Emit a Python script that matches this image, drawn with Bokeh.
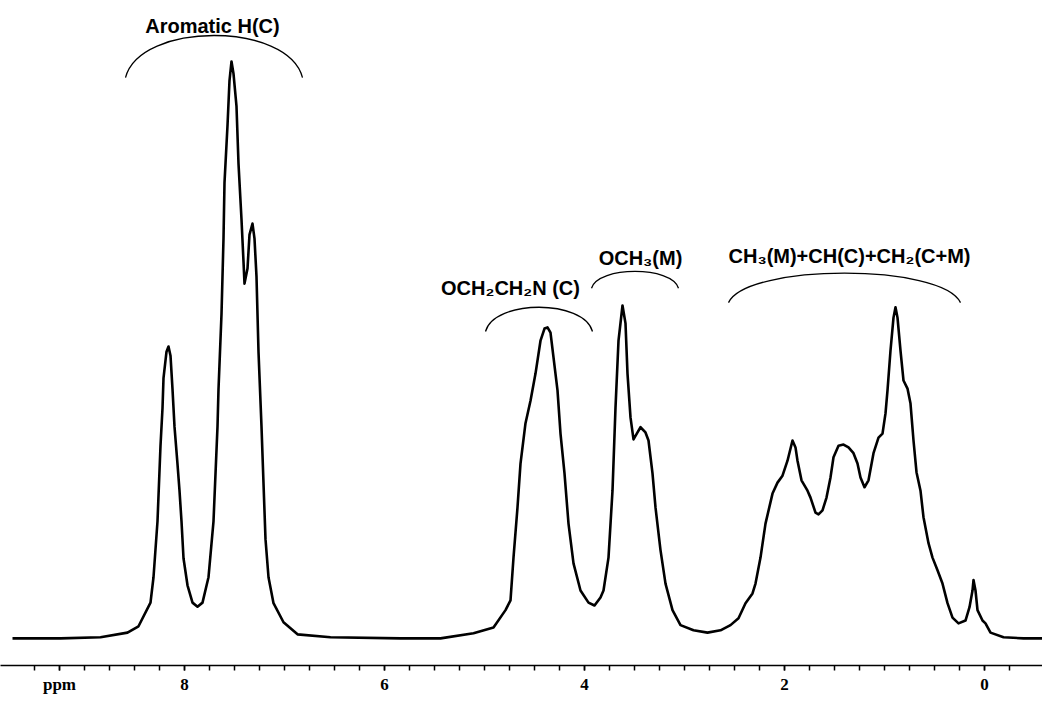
from bokeh.plotting import figure
from bokeh.models import Range1d, FixedTicker
from bokeh.core.properties import value
from bokeh.embed import file_html
from bokeh.resources import INLINE

# ---- spectrum trace (chemical shift in ppm, relative intensity) ----
ppm = [9.72, 9.24, 8.84, 8.57, 8.46, 8.34, 8.31, 8.27, 8.24, 8.22, 8.21, 8.18, 8.16, 8.14,
       8.12, 8.10, 8.07, 8.05, 8.03, 8.01, 7.97, 7.92, 7.87, 7.82, 7.76, 7.71, 7.67, 7.66,
       7.63, 7.61, 7.60, 7.57, 7.55, 7.53, 7.51, 7.48, 7.46, 7.43, 7.41, 7.40, 7.37, 7.35,
       7.32, 7.30, 7.28, 7.26, 7.23, 7.21, 7.19, 7.16, 7.11, 7.01, 6.87, 6.54, 5.84, 5.44,
       5.11, 4.91, 4.79, 4.74, 4.71, 4.67, 4.64, 4.59, 4.54, 4.49, 4.44, 4.40, 4.37, 4.34,
       4.31, 4.27, 4.24, 4.20, 4.16, 4.11, 4.04, 3.96, 3.90, 3.84, 3.81, 3.76, 3.72, 3.69,
       3.66, 3.62, 3.59, 3.57, 3.54, 3.51, 3.47, 3.44, 3.39, 3.36, 3.32, 3.29, 3.24, 3.19,
       3.12, 3.04, 2.91, 2.77, 2.64, 2.54, 2.46, 2.39, 2.32, 2.29, 2.24, 2.19, 2.12, 2.07,
       2.02, 1.97, 1.92, 1.89, 1.87, 1.83, 1.77, 1.74, 1.69, 1.66, 1.62, 1.58, 1.54, 1.51,
       1.46, 1.41, 1.36, 1.31, 1.27, 1.24, 1.20, 1.16, 1.11, 1.06, 1.02, 0.99, 0.97, 0.94,
       0.91, 0.89, 0.87, 0.84, 0.81, 0.77, 0.74, 0.71, 0.68, 0.64, 0.61, 0.56, 0.52, 0.47,
       0.42, 0.37, 0.32, 0.26, 0.19, 0.15, 0.12, 0.11, 0.09, 0.07, 0.02, -0.01, -0.06,
       -0.19, -0.39, -0.74]
intensity = [0.0, 0.0, 0.2, 1.0, 2.1, 6.2, 10.6, 20.3, 33.4, 39.9, 45.1, 49.7, 50.6, 49.0,
             43.2, 36.7, 30.2, 25.6, 20.3, 13.9, 9.2, 6.2, 5.5, 6.2, 10.6, 20.3, 36.7, 43.2,
             56.2, 69.3, 79.0, 88.9, 96.7, 100.0, 97.9, 92.2, 82.3, 72.6, 65.3, 61.5, 64.1, 70.0,
             71.9, 69.3, 62.7, 49.7, 36.7, 26.9, 17.2, 10.6, 6.1, 2.8, 0.7, 0.2, 0.0, 0.0,
             0.9, 1.9, 4.9, 6.6, 14.0, 22.7, 30.3, 37.3, 41.2, 45.9, 51.6, 53.7, 53.9, 53.0,
             48.7, 43.0, 35.5, 28.6, 19.9, 13.0, 8.3, 6.2, 5.7, 7.1, 8.3, 14.0, 25.6, 40.0,
             51.6, 57.7, 54.6, 45.9, 38.3, 34.5, 35.7, 36.6, 35.7, 34.3, 28.6, 22.7, 15.3, 9.5,
             4.9, 2.3, 1.4, 1.0, 1.4, 2.3, 3.5, 6.1, 7.8, 9.5, 14.0, 19.9, 25.1, 27.0,
             28.2, 30.8, 34.3, 33.1, 30.8, 27.4, 25.6, 24.4, 21.8, 21.5, 22.2, 24.4, 27.9, 31.4,
             33.4, 33.6, 33.1, 32.1, 30.3, 27.9, 26.2, 27.4, 32.1, 34.8, 35.5, 39.0, 43.0, 49.9,
             55.6, 57.4, 55.6, 49.9, 44.7, 43.3, 40.7, 34.3, 28.8, 25.6, 21.0, 16.5, 14.0, 11.8,
             9.5, 6.1, 3.6, 2.6, 3.1, 5.4, 8.3, 10.1, 8.3, 4.9, 3.1, 2.6, 1.0,
             0.2, 0.0, 0.0]

# ---- axis ticks ----
label_ticks = [9.25, 8, 6, 4, 2, 0]
label_texts = ["ppm", "8", "6", "4", "2", "0"]
minor_ticks = [k * 0.25 for k in range(38, -2, -1)]

# ---- group annotations ----
group_labels = ["Aromatic H(C)", "OCH\u2082CH\u2082N (C)", "OCH\u2083(M)",
                "CH\u2083(M)+CH(C)+CH\u2082(C+M)"]
label_ppm = [7.72, 4.74, 3.44, 1.35]
label_int = [106.2, 60.8, 66.0, 66.2]
bracket_left = [8.59, 4.99, 3.93, 2.56]
bracket_right = [6.82, 3.92, 3.06, 0.24]
bracket_end = [97.2, 53.2, 60.7, 58.2]
bracket_top = [104.5, 57.4, 63.6, 63.3]

W, H = 1042, 696
p = figure(width=W, height=H, output_backend="svg", toolbar_location=None,
           x_range=Range1d(9.84, -0.58), y_range=Range1d(-4.7, 110.57),
           y_axis_location=None, min_border_left=0, min_border_right=0,
           min_border_top=0, min_border_bottom=31)
p.outline_line_color = None
p.xgrid.visible = False
p.ygrid.visible = False
p.background_fill_color = "white"
p.border_fill_color = "white"

p.line(ppm, intensity, line_color="black", line_width=2.6, line_join="round")

# brackets as cubic curves
bx0, by0, bx1, by1, cx0, cy0, cx1, cy1 = [], [], [], [], [], [], [], []
for l, r, e, t in zip(bracket_left, bracket_right, bracket_end, bracket_top):
    d = (l - r) * 0.08
    c = e + (t - e) / 0.75
    bx0.append(l); by0.append(e); bx1.append(r); by1.append(e)
    cx0.append(l - d); cy0.append(c); cx1.append(r + d); cy1.append(c)
p.bezier(x0=bx0, y0=by0, x1=bx1, y1=by1, cx0=cx0, cy0=cy0, cx1=cx1, cy1=cy1,
         line_color="black", line_width=1.3)

p.text(x=label_ppm, y=label_int, text=group_labels, text_align="center",
       text_baseline="middle", text_font=value("Liberation Sans"),
       text_font_style="bold", text_font_size="20px", text_color="black")

ax = p.xaxis[0]
ax.ticker = FixedTicker(ticks=label_ticks, minor_ticks=minor_ticks)
ax.major_label_overrides = {t: s for t, s in zip(label_ticks, label_texts)}
ax.axis_line_color = "black"
ax.axis_line_width = 1.6
ax.major_tick_in = 0
ax.major_tick_out = 5
ax.minor_tick_in = 0
ax.minor_tick_out = 5
ax.major_tick_line_width = 1.5
ax.minor_tick_line_width = 1.5
ax.major_tick_line_color = "black"
ax.minor_tick_line_color = "black"
ax.major_label_standoff = 4
ax.major_label_text_font = "Liberation Serif"
ax.major_label_text_font_style = "bold"
ax.major_label_text_font_size = "17px"
ax.major_label_text_color = "black"

open("out.html", "w").write(file_html(p, INLINE))
